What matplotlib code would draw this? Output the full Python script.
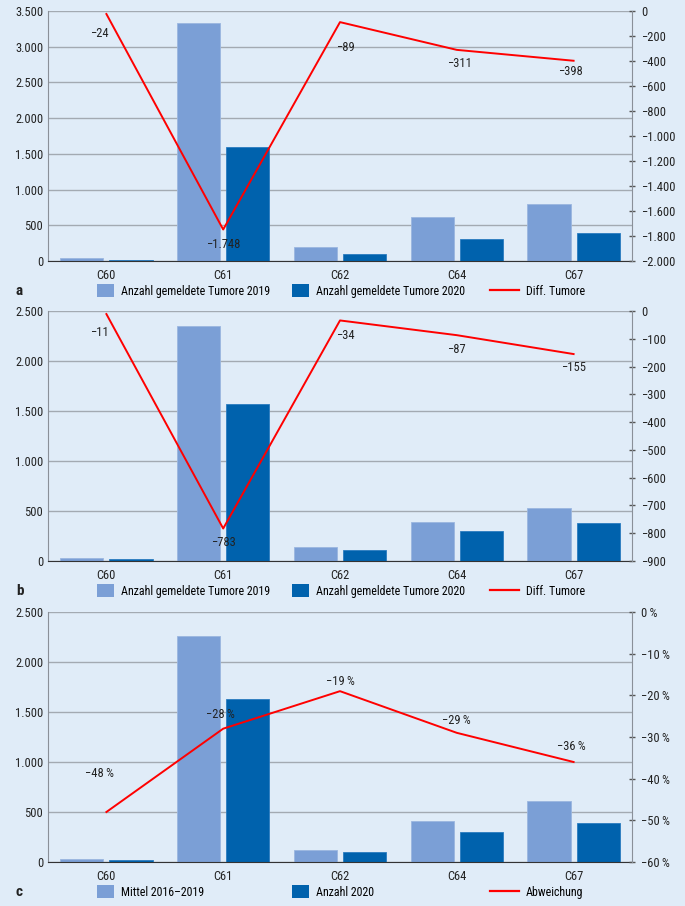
import numpy as np
import matplotlib.pyplot as plt
from matplotlib.patches import Patch
from matplotlib.lines import Line2D
from matplotlib.ticker import FuncFormatter

plt.rcParams['font.family'] = ['Roboto Condensed', 'Fira Sans Condensed',
                               'Open Sans Condensed', 'DejaVu Sans']

categories = ['C60', 'C61', 'C62', 'C64', 'C67']

# Panel a
a_2019 = [45, 3330, 195, 620, 805]
a_2020 = [15, 1590, 105, 305, 395]
a_diff = [-24, -1748, -89, -311, -398]

# Panel b
b_2019 = [30, 2355, 140, 390, 535]
b_2020 = [19, 1572, 106, 303, 380]
b_diff = [-11, -783, -34, -87, -155]

# Panel c
c_mittel = [30, 2260, 125, 415, 610]
c_2020 = [20, 1630, 105, 300, 395]
c_abw = [-48, -28, -19, -29, -36]

BG = '#e0ecf8'
LIGHT = '#7b9fd6'
DARK = '#0062ad'
RED = '#ff0000'
GRID = '#a3aab2'


def de_num(v):
    s = f'{abs(int(round(v))):,}'.replace(',', '.')
    return ('\u2212' + s) if v < 0 else s


def draw_panel(fig, rect, v1, v2, line, ylim_l, step_l, ylim_r, step_r,
               pct, label_offsets, legend_labels, letter):
    ax = fig.add_axes(rect)
    ax.set_facecolor(BG)
    x = np.arange(len(categories))
    w = 0.37
    ax.bar(x - 0.21, v1, w, color=LIGHT, edgecolor='#9bb6e0', linewidth=0.6, zorder=2)
    ax.bar(x + 0.21, v2, w, color=DARK, edgecolor='#2a7cc0', linewidth=0.6, zorder=2)
    ax.set_xlim(-0.5, len(categories) - 0.5)
    ax.set_ylim(*ylim_l)
    ax.set_yticks(np.arange(ylim_l[0], ylim_l[1] + 1, step_l))
    ax.yaxis.set_major_formatter(FuncFormatter(lambda v, p: de_num(v)))
    ax.yaxis.grid(True, color=GRID, linewidth=1, zorder=0)
    ax.set_axisbelow(True)
    ax.set_xticks(x)
    ax.set_xticklabels(categories)
    ax.tick_params(axis='both', length=0, labelsize=9, colors='#222222')
    ax.tick_params(axis='x', pad=6)
    ax.spines['top'].set_visible(False)
    ax.spines['left'].set_color('#8a9099')
    ax.spines['right'].set_visible(False)
    ax.spines['bottom'].set_color('#333333')

    ax2 = ax.twinx()
    ax2.plot(x, line, color=RED, linewidth=1.4, zorder=5)
    ax2.set_ylim(*ylim_r)
    ax2.set_yticks(np.arange(ylim_r[0], ylim_r[1] + 0.01, step_r))
    if pct:
        ax2.yaxis.set_major_formatter(FuncFormatter(lambda v, p: de_num(v) + '\u2009%'))
    else:
        ax2.yaxis.set_major_formatter(FuncFormatter(lambda v, p: de_num(v)))
    ax2.tick_params(axis='y', direction='inout', length=5, width=1,
                    color='#555555', labelsize=9, labelcolor='#222222', pad=4)
    for s in ['top', 'left', 'bottom']:
        ax2.spines[s].set_visible(False)
    ax2.spines['right'].set_color('#8a9099')

    for xi, yi, (dx, dy) in zip(x, line, label_offsets):
        txt = de_num(yi) + ('\u2009%' if pct else '')
        ax2.annotate(txt, (xi, yi), xytext=(dx, dy), textcoords='offset points',
                     ha='center', va='center', fontsize=9, color='#222222')

    # legend row below the axes
    fw, fh = fig.get_size_inches() * fig.dpi
    ly = rect[1] - 30 / fh
    handles = [Patch(facecolor=LIGHT, edgecolor='none'),
               Patch(facecolor=DARK, edgecolor='none'),
               Line2D([0], [0], color=RED, linewidth=1.6)]
    xs = [97, 292, 490]
    for h, lab, xp in zip(handles, legend_labels, xs):
        fig.legend(handles=[h], labels=[lab], loc='center left',
                   bbox_to_anchor=(xp / fw, ly), frameon=False, fontsize=8.6,
                   handlelength=1.45 if not isinstance(h, Line2D) else 2.4,
                   handleheight=1.3, handletextpad=0.6, borderaxespad=0,
                   borderpad=0)
    fig.text(16 / fw, ly, letter, fontsize=11, fontweight='bold',
             ha='left', va='center', color='#222222')
    return ax


fig = plt.figure(figsize=(6.85, 9.06), dpi=100)
fig.patch.set_facecolor(BG)
W, H = 685, 906
left, right = 48 / W, 632 / W


def rect(top, bottom):
    return [left, 1 - bottom / H, right - left, (bottom - top) / H]


draw_panel(fig, rect(11, 261), a_2019, a_2020, a_diff,
           (0, 3500), 500, (-2000, 0), 200, False,
           [(-5, -14), (0, -11), (4, -18), (2, -10), (-2, -8)],
           ['Anzahl gemeldete Tumore 2019', 'Anzahl gemeldete Tumore 2020', 'Diff. Tumore'], 'a')

draw_panel(fig, rect(311, 561), b_2019, b_2020, b_diff,
           (0, 2500), 500, (-900, 0), 100, False,
           [(-5, -13), (0, -10), (4, -11), (0, -10), (0, -10)],
           ['Anzahl gemeldete Tumore 2019', 'Anzahl gemeldete Tumore 2020', 'Diff. Tumore'], 'b')

draw_panel(fig, rect(612, 862), c_mittel, c_2020, c_abw,
           (0, 2500), 500, (-60, 0), 10, True,
           [(-5, 28), (-2, 10), (0, 7), (0, 9), (-2, 11)],
           ['Mittel 2016\u20132019', 'Anzahl 2020', 'Abweichung'], 'c')

fig.savefig('out.png', dpi=100, facecolor=BG)
